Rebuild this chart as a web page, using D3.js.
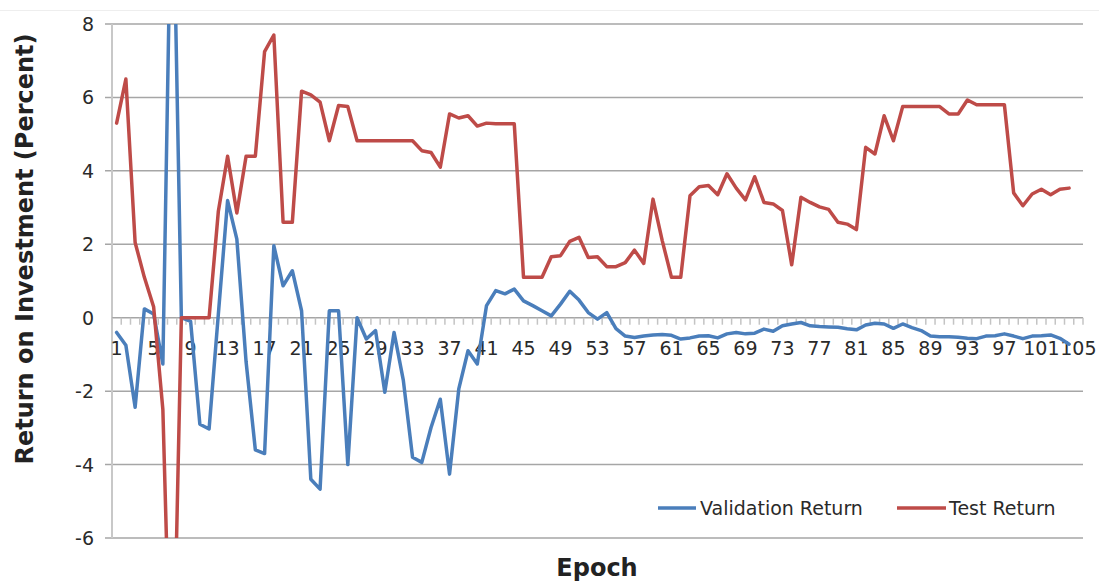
<!DOCTYPE html>
<html>
<head>
<meta charset="utf-8">
<script src="https://cdn.jsdelivr.net/npm/d3@7"></script>
<style>
  html, body { margin: 0; padding: 0; background: #fff; }
  svg { display: block; }
</style>
</head>
<body>
<svg id="chart" width="1099" height="581"></svg>
<script>
// ---------- data ----------
const categories = d3.range(1, 106); // epochs 1..105 on the category axis
const xTickLabels = [1,5,9,13,17,21,25,29,33,37,41,45,49,53,57,61,65,69,73,77,81,85,89,93,97,101,105];
const yTicks = [-6,-4,-2,0,2,4,6,8];

const validationReturn = [
  -0.4, -0.75, -2.44, 0.24, 0.1, -1.26, 13.3, 0, -0.1, -2.9,
  -3.03, 0.1, 3.19, 2.14, -1.2, -3.6, -3.7, 1.96, 0.87, 1.28,
  0.19, -4.4, -4.67, 0.19, 0.19, -4.0, 0.0, -0.58, -0.35, -2.03,
  -0.4, -1.7, -3.8, -3.94, -2.99, -2.22, -4.26, -1.94, -0.9, -1.26,
  0.33, 0.74, 0.65, 0.78, 0.46, 0.33, 0.19, 0.05, 0.37, 0.72,
  0.48, 0.14, -0.04, 0.14, -0.3, -0.5, -0.54, -0.5, -0.47, -0.46,
  -0.48, -0.58, -0.55, -0.5, -0.49, -0.55, -0.44, -0.4, -0.44, -0.42,
  -0.31, -0.37, -0.22, -0.17, -0.13, -0.22, -0.24, -0.25, -0.26, -0.3,
  -0.33, -0.2, -0.15, -0.17, -0.29, -0.17, -0.27, -0.35, -0.5, -0.52,
  -0.52, -0.53, -0.56, -0.57, -0.5, -0.49, -0.44, -0.5, -0.57, -0.5,
  -0.49, -0.47, -0.56, -0.72
];

const testReturn = [
  5.3, 6.5, 2.05, 1.1, 0.3, -2.5, -11.6, 0, 0, 0,
  0, 2.9, 4.4, 2.85, 4.4, 4.4, 7.25, 7.7, 2.6, 2.6,
  6.17, 6.07, 5.87, 4.82, 5.78, 5.75, 4.82, 4.82, 4.82, 4.82,
  4.82, 4.82, 4.82, 4.55, 4.5, 4.1, 5.55, 5.44, 5.5, 5.22,
  5.3, 5.28, 5.28, 5.28, 1.1, 1.1, 1.1, 1.66, 1.69, 2.08,
  2.19, 1.64, 1.66, 1.39, 1.39, 1.5, 1.84, 1.48, 3.23, 2.1,
  1.1, 1.1, 3.32, 3.57, 3.6, 3.35, 3.92, 3.53, 3.21, 3.84,
  3.14, 3.1, 2.92, 1.44, 3.28, 3.14, 3.02, 2.95, 2.6, 2.55,
  2.4, 4.64, 4.46, 5.5, 4.82, 5.75, 5.75, 5.75, 5.75, 5.75,
  5.55, 5.55, 5.93, 5.8, 5.8, 5.8, 5.8, 3.4, 3.05, 3.37,
  3.5, 3.35, 3.5, 3.53
];

const seriesNames = ["Validation Return", "Test Return"];
const seriesColors = ["#4a7ebb", "#be4b48"];

// ---------- layout ----------
const svg = d3.select("#chart");
const plot = { left: 112, right: 1083, top: 24, bottom: 538 };

const x = d3.scaleBand().domain(categories).range([plot.left, plot.right]).padding(0);
const y = d3.scaleLinear().domain([-6, 8]).range([plot.bottom, plot.top]);
const cx = i => x(categories[i]) + x.bandwidth() / 2;

const FONT = "'DejaVu Sans', 'Liberation Sans', sans-serif";

// faint separator line at top
svg.append("line").attr("x1", 0).attr("x2", 1099).attr("y1", 10.5).attr("y2", 10.5)
  .attr("stroke", "#eeeeee").attr("stroke-width", 1);

// gridlines
svg.append("g").selectAll("line").data(yTicks.filter(d => d !== 0)).join("line")
  .attr("x1", plot.left - 7).attr("x2", plot.right)
  .attr("y1", d => y(d)).attr("y2", d => y(d))
  .attr("stroke", "#a6a6a6").attr("stroke-width", 1.5);

// y axis line
svg.append("line").attr("x1", plot.left).attr("x2", plot.left)
  .attr("y1", plot.top).attr("y2", plot.bottom)
  .attr("stroke", "#c8c8c8").attr("stroke-width", 2);

// y tick labels
svg.append("g").selectAll("text").data(yTicks).join("text")
  .attr("x", 94).attr("y", d => y(d) + 7)
  .attr("text-anchor", "end")
  .attr("font-family", FONT).attr("font-size", 19).attr("fill", "#2a2a2a")
  .text(d => d);

// x axis at zero with category boundary ticks
const xAxisG = svg.append("g").attr("transform", `translate(0,${y(0)})`);
xAxisG.append("line").attr("x1", plot.left).attr("x2", plot.right).attr("y1", 0).attr("y2", 0)
  .attr("stroke", "#a6a6a6").attr("stroke-width", 1.5);
const boundaries = categories.map(c => x(c)).concat([plot.right]);
xAxisG.selectAll("line.tick").data(boundaries).join("line").attr("class", "tick")
  .attr("x1", d => d).attr("x2", d => d).attr("y1", 0).attr("y2", 7)
  .attr("stroke", "#c4c4c4").attr("stroke-width", 1.5);
xAxisG.selectAll("text").data(xTickLabels).join("text")
  .attr("x", d => x(d) + x.bandwidth() / 2).attr("y", 37)
  .attr("text-anchor", "middle")
  .attr("font-family", FONT).attr("font-size", 19).attr("fill", "#2a2a2a")
  .text(d => d);

// clip for lines
svg.append("defs").append("clipPath").attr("id", "plotclip")
  .append("rect").attr("x", plot.left).attr("y", plot.top)
  .attr("width", plot.right - plot.left).attr("height", plot.bottom - plot.top);

const line = d3.line().x((d, i) => cx(i)).y(d => y(d));
const linesG = svg.append("g").attr("clip-path", "url(#plotclip)");
[validationReturn, testReturn].forEach((s, k) => {
  linesG.append("path").datum(s).attr("d", line)
    .attr("fill", "none").attr("stroke", seriesColors[k])
    .attr("stroke-width", 3.5).attr("stroke-linejoin", "round").attr("stroke-linecap", "round");
});

// axis titles
svg.append("text")
  .attr("transform", `translate(33,${(plot.top + plot.bottom) / 2 - 32}) rotate(-90)`)
  .attr("text-anchor", "middle")
  .attr("font-family", FONT).attr("font-size", 24).attr("font-weight", "bold").attr("fill", "#222")
  .text("Return on Investment (Percent)");

svg.append("text")
  .attr("x", 597).attr("y", 576)
  .attr("text-anchor", "middle")
  .attr("font-family", FONT).attr("font-size", 24).attr("font-weight", "bold").attr("fill", "#222")
  .text("Epoch");

// legend
const legendItems = [
  { name: seriesNames[0], color: seriesColors[0], x1: 658, x2: 696, tx: 700 },
  { name: seriesNames[1], color: seriesColors[1], x1: 897, x2: 946, tx: 949 }
];
const lg = svg.append("g");
legendItems.forEach(it => {
  lg.append("line").attr("x1", it.x1).attr("x2", it.x2).attr("y1", 508).attr("y2", 508)
    .attr("stroke", it.color).attr("stroke-width", 3.5);
  lg.append("text").attr("x", it.tx).attr("y", 515)
    .attr("font-family", FONT).attr("font-size", 19).attr("fill", "#2a2a2a")
    .text(it.name);
});
</script>
</body>
</html>
